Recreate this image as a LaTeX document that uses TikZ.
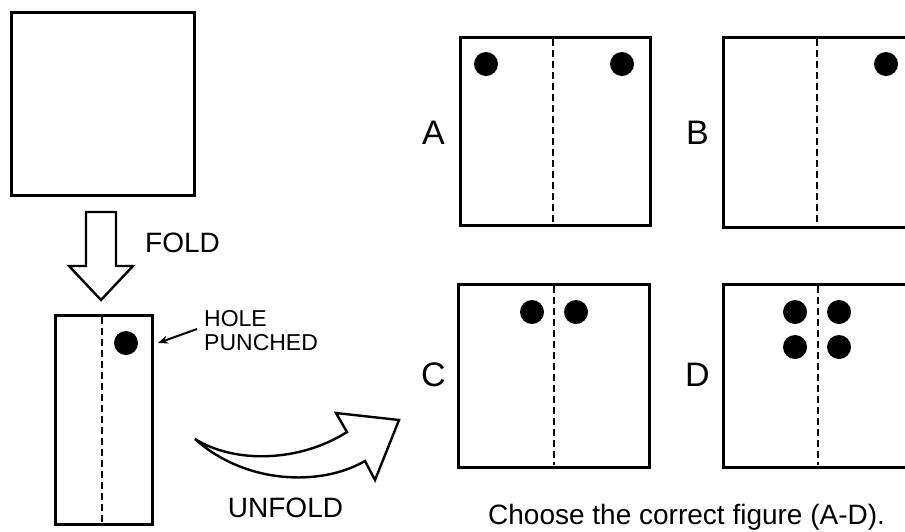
\documentclass[tikz,border=0pt]{standalone}
\usepackage{fontspec}
\setmainfont{Liberation Sans}
\usetikzlibrary{arrows.meta}
\begin{document}
\begin{tikzpicture}[x=1pt,y=-1pt,
  paper/.style={draw=black,line width=3pt},
  fold/.style={draw=black,line width=2.2pt,dash pattern=on 7pt off 4pt},
  hole/.style={fill=black},
  bigarrow/.style={draw=black,line width=2.4pt,line join=miter,fill=white},
  lab/.style={inner sep=0pt,font=\fontsize{34}{36}\selectfont},
  txt/.style={inner sep=0pt,font=\fontsize{28}{30}\selectfont},
  small/.style={inner sep=0pt,align=left,font=\fontsize{23}{24}\selectfont},
  pointer/.style={draw=black,line width=2pt,-{Stealth[length=10pt,width=8pt]}}]
\useasboundingbox (0,0) rectangle (905,531);
\clip (0,0) rectangle (905,531);
% original square
\draw[paper] (11,12) rectangle (194,195);
% fold arrow
\draw[bigarrow] (86,212) -- (116,212) -- (116,266) -- (133,266) -- (101,300)
  -- (69,266) -- (86,266) -- cycle;
\node[txt] (foldlab) at (182.5,243) {FOLD};
% folded strip
\draw[paper] (55,315) rectangle (152,524);
\draw[fold] (102,317) -- (102,522);
\fill[hole] (126,343) circle (12);
\node[small,anchor=north west] (holelab) at (204,310) {HOLE\\PUNCHED};
\coordinate (holetip) at (158,343);
\draw[pointer] (197,329) -- (holetip);
% unfold arrow
\draw[bigarrow] (195,439) .. controls (235,464) and (300,462) .. (347,432)
  -- (336,413) -- (399,420) -- (375,480) -- (365,461)
  .. controls (320,487) and (245,484) .. cycle;
\node[txt] (unfoldlab) at (285.5,508) {UNFOLD};
% option A
\node[lab] (la) at (433.5,133) {A};
\draw[paper] (460,37) rectangle (650,225);
\draw[fold] (553,39) -- (553,223);
\fill[hole] (486,64) circle (12);
\fill[hole] (622,64) circle (12);
% option B
\node[lab] (lb) at (697.5,133) {B};
\draw[paper] (723,37) rectangle (913,227);
\draw[fold] (817,39) -- (817,225);
\fill[hole] (886,64) circle (12);
% option C
\node[lab] (lc) at (433.5,375) {C};
\draw[paper] (458,284) rectangle (649,467);
\draw[fold] (554,286) -- (554,465);
\fill[hole] (532,312) circle (12);
\fill[hole] (576,312) circle (12);
% option D
\node[lab] (ld) at (697.5,375) {D};
\draw[paper] (723,284) rectangle (913,467);
\draw[fold] (818,286) -- (818,465);
\fill[hole] (795,312) circle (12);
\fill[hole] (839,312) circle (12);
\fill[hole] (795,347) circle (12);
\fill[hole] (839,347) circle (12);
% question
\node[txt,anchor=base west] (question) at (488,524) {Choose the correct figure (A-D).};
\end{tikzpicture}
\end{document}
